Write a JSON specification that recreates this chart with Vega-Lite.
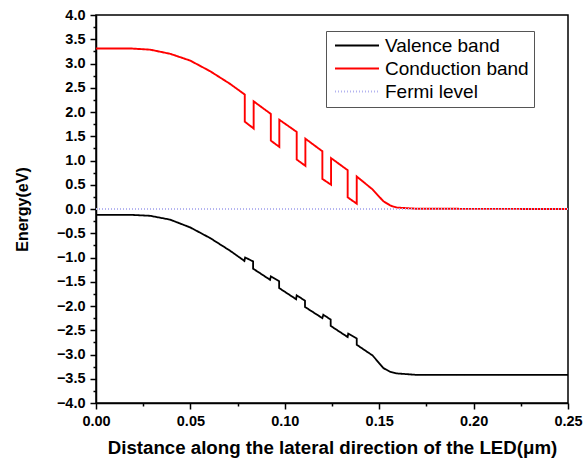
{
  "$schema": "https://vega.github.io/schema/vega-lite/v6.json",
  "width": 472,
  "height": 388,
  "autosize": {"type": "none"},
  "padding": {"left": 96, "top": 15, "right": 15, "bottom": 65},
  "background": "white",
  "config": {
    "font": "Liberation Sans",
    "view": {"stroke": "black", "strokeWidth": 1.5}
  },
  "data": {
    "values": [
      {"series": "Valence band", "i": 0, "x": 0, "y": -0.12},
      {"series": "Valence band", "i": 1, "x": 0.0182, "y": -0.12},
      {"series": "Valence band", "i": 2, "x": 0.0287, "y": -0.14},
      {"series": "Valence band", "i": 3, "x": 0.0393, "y": -0.22},
      {"series": "Valence band", "i": 4, "x": 0.0499, "y": -0.38},
      {"series": "Valence band", "i": 5, "x": 0.0605, "y": -0.6},
      {"series": "Valence band", "i": 6, "x": 0.071, "y": -0.86},
      {"series": "Valence band", "i": 7, "x": 0.0786, "y": -1.07},
      {"series": "Valence band", "i": 8, "x": 0.079, "y": -1.0},
      {"series": "Valence band", "i": 9, "x": 0.0832, "y": -1.08},
      {"series": "Valence band", "i": 10, "x": 0.0832, "y": -1.23},
      {"series": "Valence band", "i": 11, "x": 0.0922, "y": -1.46},
      {"series": "Valence band", "i": 12, "x": 0.0926, "y": -1.39},
      {"series": "Valence band", "i": 13, "x": 0.097, "y": -1.49},
      {"series": "Valence band", "i": 14, "x": 0.097, "y": -1.63},
      {"series": "Valence band", "i": 15, "x": 0.106, "y": -1.86},
      {"series": "Valence band", "i": 16, "x": 0.1063, "y": -1.78},
      {"series": "Valence band", "i": 17, "x": 0.1107, "y": -1.89},
      {"series": "Valence band", "i": 18, "x": 0.1107, "y": -2.02},
      {"series": "Valence band", "i": 19, "x": 0.1199, "y": -2.25},
      {"series": "Valence band", "i": 20, "x": 0.1204, "y": -2.18},
      {"series": "Valence band", "i": 21, "x": 0.1243, "y": -2.28},
      {"series": "Valence band", "i": 22, "x": 0.1243, "y": -2.41},
      {"series": "Valence band", "i": 23, "x": 0.1333, "y": -2.64},
      {"series": "Valence band", "i": 24, "x": 0.1336, "y": -2.57},
      {"series": "Valence band", "i": 25, "x": 0.1381, "y": -2.67},
      {"series": "Valence band", "i": 26, "x": 0.1381, "y": -2.8},
      {"series": "Valence band", "i": 27, "x": 0.1465, "y": -3.02},
      {"series": "Valence band", "i": 28, "x": 0.1522, "y": -3.28},
      {"series": "Valence band", "i": 29, "x": 0.156, "y": -3.36},
      {"series": "Valence band", "i": 30, "x": 0.1592, "y": -3.39},
      {"series": "Valence band", "i": 31, "x": 0.1698, "y": -3.42},
      {"series": "Valence band", "i": 32, "x": 0.25, "y": -3.42},
      {"series": "Conduction band", "i": 0, "x": 0, "y": 3.31},
      {"series": "Conduction band", "i": 1, "x": 0.0182, "y": 3.31},
      {"series": "Conduction band", "i": 2, "x": 0.0287, "y": 3.285},
      {"series": "Conduction band", "i": 3, "x": 0.0393, "y": 3.2},
      {"series": "Conduction band", "i": 4, "x": 0.0499, "y": 3.06},
      {"series": "Conduction band", "i": 5, "x": 0.0605, "y": 2.84},
      {"series": "Conduction band", "i": 6, "x": 0.071, "y": 2.58},
      {"series": "Conduction band", "i": 7, "x": 0.0788, "y": 2.36},
      {"series": "Conduction band", "i": 8, "x": 0.0788, "y": 1.8},
      {"series": "Conduction band", "i": 9, "x": 0.0835, "y": 1.66},
      {"series": "Conduction band", "i": 10, "x": 0.0835, "y": 2.22},
      {"series": "Conduction band", "i": 11, "x": 0.0926, "y": 1.96},
      {"series": "Conduction band", "i": 12, "x": 0.0926, "y": 1.41},
      {"series": "Conduction band", "i": 13, "x": 0.0971, "y": 1.28},
      {"series": "Conduction band", "i": 14, "x": 0.0971, "y": 1.84},
      {"series": "Conduction band", "i": 15, "x": 0.1063, "y": 1.59},
      {"series": "Conduction band", "i": 16, "x": 0.1063, "y": 1.02},
      {"series": "Conduction band", "i": 17, "x": 0.1109, "y": 0.89},
      {"series": "Conduction band", "i": 18, "x": 0.1109, "y": 1.45},
      {"series": "Conduction band", "i": 19, "x": 0.1199, "y": 1.19},
      {"series": "Conduction band", "i": 20, "x": 0.1199, "y": 0.62},
      {"series": "Conduction band", "i": 21, "x": 0.1245, "y": 0.5},
      {"series": "Conduction band", "i": 22, "x": 0.1245, "y": 1.05},
      {"series": "Conduction band", "i": 23, "x": 0.1333, "y": 0.8},
      {"series": "Conduction band", "i": 24, "x": 0.1333, "y": 0.24},
      {"series": "Conduction band", "i": 25, "x": 0.1381, "y": 0.11},
      {"series": "Conduction band", "i": 26, "x": 0.1381, "y": 0.67},
      {"series": "Conduction band", "i": 27, "x": 0.1463, "y": 0.41},
      {"series": "Conduction band", "i": 28, "x": 0.1522, "y": 0.16},
      {"series": "Conduction band", "i": 29, "x": 0.156, "y": 0.07},
      {"series": "Conduction band", "i": 30, "x": 0.1592, "y": 0.03},
      {"series": "Conduction band", "i": 31, "x": 0.1698, "y": 0.005},
      {"series": "Conduction band", "i": 32, "x": 0.25, "y": 0.0},
      {"series": "Fermi level", "i": 0, "x": 0, "y": 0},
      {"series": "Fermi level", "i": 1, "x": 0.25, "y": 0}
    ]
  },
  "mark": {"type": "line", "strokeCap": "butt", "strokeJoin": "miter"},
  "encoding": {
    "x": {
      "field": "x",
      "type": "quantitative",
      "scale": {"domain": [0, 0.25], "nice": false, "zero": false},
      "axis": {
        "title": "Distance along the lateral direction of the LED(μm)",
        "titleFontSize": 18.7,
        "titleFontWeight": "bold",
        "titleColor": "black",
        "titleY": 44,
        "titleBaseline": "middle",
        "values": [0, 0.025, 0.05, 0.075, 0.1, 0.125, 0.15, 0.175, 0.2, 0.225, 0.25],
        "labelExpr": "abs(datum.value*20 - round(datum.value*20)) < 1e-6 ? format(datum.value, '.2f') : ''",
        "labelFontSize": 14.5,
        "labelFontWeight": "bold",
        "labelColor": "black",
        "labelPadding": 5,
        "labelFlush": false,
        "labelOverlap": false,
        "tickSize": {"condition": {"test": "abs(datum.value*20 - round(datum.value*20)) < 1e-6", "value": 6}, "value": 3},
        "tickColor": "black",
        "tickWidth": 1.5,
        "domainColor": "black",
        "domainWidth": 1.5,
        "grid": false
      }
    },
    "y": {
      "field": "y",
      "type": "quantitative",
      "scale": {"domain": [-4, 4], "nice": false, "zero": false},
      "axis": {
        "title": "Energy(eV)",
        "titleFontSize": 16,
        "titleFontWeight": "bold",
        "titleColor": "black",
        "titleX": -74,
        "titleY": 194,
        "titleAngle": -90,
        "titleAlign": "center",
        "titleBaseline": "middle",
        "values": [-4, -3.75, -3.5, -3.25, -3, -2.75, -2.5, -2.25, -2, -1.75, -1.5, -1.25, -1, -0.75, -0.5, -0.25, 0, 0.25, 0.5, 0.75, 1, 1.25, 1.5, 1.75, 2, 2.25, 2.5, 2.75, 3, 3.25, 3.5, 3.75, 4],
        "labelExpr": "abs(datum.value*2 - round(datum.value*2)) < 1e-6 ? format(datum.value, '.1f') : ''",
        "labelFontSize": 14.5,
        "labelFontWeight": "bold",
        "labelColor": "black",
        "labelPadding": 5,
        "labelFlush": false,
        "labelOverlap": false,
        "tickSize": {"condition": {"test": "abs(datum.value*2 - round(datum.value*2)) < 1e-6", "value": 6}, "value": 3},
        "tickColor": "black",
        "tickWidth": 1.5,
        "domainColor": "black",
        "domainWidth": 1.5,
        "grid": false
      }
    },
    "order": {"field": "i", "type": "quantitative"},
    "color": {
      "field": "series",
      "type": "nominal",
      "scale": {"domain": ["Valence band", "Conduction band", "Fermi level"], "range": ["black", "#ff0000", "#b4b4f0"]},
      "legend": {
        "title": null,
        "orient": "none",
        "legendX": 230,
        "legendY": 16,
        "strokeColor": "#555555",
        "fillColor": "white",
        "padding": 5,
        "symbolType": "M-1,0H7",
        "symbolSize": 121,
        "symbolStrokeWidth": 2,
        "labelFontSize": 19,
        "labelColor": "black",
        "labelOffset": 35,
        "rowPadding": 3,
        "labelLimit": 300
      }
    },
    "strokeDash": {
      "field": "series",
      "type": "nominal",
      "scale": {"domain": ["Valence band", "Conduction band", "Fermi level"], "range": [[1, 0], [1, 0], [1, 2]]},
      "legend": null
    },
    "strokeWidth": {
      "field": "series",
      "type": "nominal",
      "scale": {"domain": ["Valence band", "Conduction band", "Fermi level"], "range": [1.8, 2, 1]},
      "legend": null
    }
  }
}
